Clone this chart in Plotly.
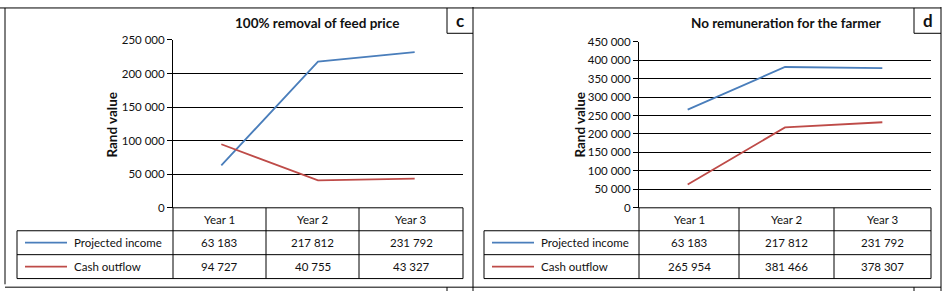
import plotly.graph_objects as go

# ---------------- data ----------------
years = ["Year 1", "Year 2", "Year 3"]
series_names = ["Projected income", "Cash outflow"]

c_title = "100% removal of feed price"
c_projected_income = [63183, 217812, 231792]
c_cash_outflow = [94727, 40755, 43327]
c_yticks = [0, 50000, 100000, 150000, 200000, 250000]

d_title = "No remuneration for the farmer"
d_projected_income = [63183, 217812, 231792]
d_cash_outflow = [265954, 381466, 378307]
d_yticks = [0, 50000, 100000, 150000, 200000, 250000, 300000, 350000, 400000, 450000]

W, H = 945, 297
BLUE = "#4A7EBB"
RED = "#BE4B48"
FONT = "Lato"
TXT = "#111111"


def px(x):
    return x / W


def py(y):
    return 1 - y / H


def fmt(v):
    return f"{v:,}".replace(",", " ")


fig = go.Figure()

shapes = []
annotations = []


def hline(x0, x1, y, w=1):
    shapes.append(dict(type="line", xref="paper", yref="paper",
                       x0=px(x0), x1=px(x1), y0=py(y), y1=py(y),
                       line=dict(color="black", width=w)))


def vline(x, y0, y1, w=1):
    shapes.append(dict(type="line", xref="paper", yref="paper",
                       x0=px(x), x1=px(x), y0=py(y0), y1=py(y1),
                       line=dict(color="black", width=w)))


def text(x, y, s, size=11.5, bold=False, xanchor="center", angle=0):
    annotations.append(dict(xref="paper", yref="paper", x=px(x), y=py(y),
                            text=f"<b>{s}</b>" if bold else s, showarrow=False,
                            xanchor=xanchor, yanchor="middle", textangle=angle,
                            font=dict(family=FONT, size=size, color=TXT)))


panels = [
    dict(xa="x", ya="y", L=173, R=463, T=34.5, TL=17, title=c_title, tag="c", bl=447, br=473,
         blue=c_projected_income, red=c_cash_outflow, cols=[173, 266, 359, 463],
         rows=[c_projected_income, c_cash_outflow], yt=c_yticks, lx=112, tx=317, tagx=460),
    # panel d: the source chart draws the blue line with the outflow figures
    # and the red line with the income figures (labels swapped in the original)
    dict(xa="x2", ya="y2", L=639, R=931, T=36.3, TL=484, title=d_title, tag="d", bl=914, br=941,
         blue=d_cash_outflow, red=d_projected_income, cols=[639, 739, 834, 931],
         rows=[d_projected_income, d_cash_outflow], yt=d_yticks, lx=580, tx=786, tagx=927.5),
]

B0 = 210   # y pixel of the zero line / table top
R1 = 234   # header row bottom
R2 = 259   # row 1 bottom
R3 = 284   # row 2 bottom

for i, p in enumerate(panels):
    fig.add_trace(go.Scatter(x=years, y=p["blue"], mode="lines", name=series_names[0],
                             line=dict(color=BLUE, width=1.8), xaxis=p["xa"], yaxis=p["ya"],
                             showlegend=False))
    fig.add_trace(go.Scatter(x=years, y=p["red"], mode="lines", name=series_names[1],
                             line=dict(color=RED, width=1.8), xaxis=p["xa"], yaxis=p["ya"],
                             showlegend=False))
    sfx = "" if i == 0 else "2"
    fig.update_layout(**{
        f"xaxis{sfx}": dict(domain=[px(p["L"]), px(p["R"])], anchor=f"y{sfx}",
                            type="category", range=[-0.5, 2.5], showticklabels=False,
                            showgrid=False, zeroline=False, showline=False, ticks=""),
        f"yaxis{sfx}": dict(domain=[py(B0), py(p["T"])], anchor=f"x{sfx}",
                            range=[0, p["yt"][-1]], tickvals=p["yt"],
                            ticktext=[fmt(v) for v in p["yt"]],
                            showline=True, linecolor="black", linewidth=1,
                            ticks="outside", ticklen=5, tickcolor="black",
                            showgrid=True, gridcolor="black", gridwidth=1,
                            zeroline=False,
                            tickfont=dict(family=FONT, size=11.5, color=TXT)),
    })

    cols = p["cols"]
    hline(p["L"], p["R"], B0)
    hline(p["TL"], p["R"], R1)
    hline(p["TL"], p["R"], R2)
    hline(p["TL"], p["R"], R3)
    vline(p["TL"], R1, R3)
    for cx in cols:
        vline(cx, B0, R3)
    for j, yr in enumerate(years):
        cx = (cols[j] + cols[j + 1]) / 2
        text(cx, (B0 + R1) / 2, yr)
        text(cx, (R1 + R2) / 2, fmt(p["rows"][0][j]))
        text(cx, (R2 + R3) / 2, fmt(p["rows"][1][j]))
    # legend keys inside the data table
    kx0 = p["TL"] + 8
    kx1 = kx0 + 42
    for k, (col, yy) in enumerate([(BLUE, (R1 + R2) / 2), (RED, (R2 + R3) / 2)]):
        shapes.append(dict(type="line", xref="paper", yref="paper",
                           x0=px(kx0), x1=px(kx1), y0=py(yy), y1=py(yy),
                           line=dict(color=col, width=1.8)))
        text(kx1 + 5, yy, series_names[k], xanchor="left")

    # titles, axis label, tag box
    text(p["tx"], 16.5, p["title"], size=13.5, bold=True)
    text(p["lx"], 123, "Rand value", size=13.5, bold=True, angle=-90)
    text(p["tagx"], 14.5, p["tag"], size=17, bold=True)
    vline(p["bl"], 1, 27.5)
    hline(p["bl"], p["br"], 27.5)

# outer frame
hline(0, 941, 1)
vline(5, 1, 290)
vline(473, 0, 297)
vline(941, 0, 297)
hline(5, 941, 293)
vline(447, 293, 297)
vline(914, 293, 297)

fig.update_layout(width=W, height=H, margin=dict(l=0, r=0, t=0, b=0),
                  paper_bgcolor="white", plot_bgcolor="white",
                  shapes=shapes, annotations=annotations, showlegend=False)

fig.write_html("out.html", config={"displayModeBar": False},
               post_script="document.body.style.margin='0';document.body.style.overflow='hidden';")
